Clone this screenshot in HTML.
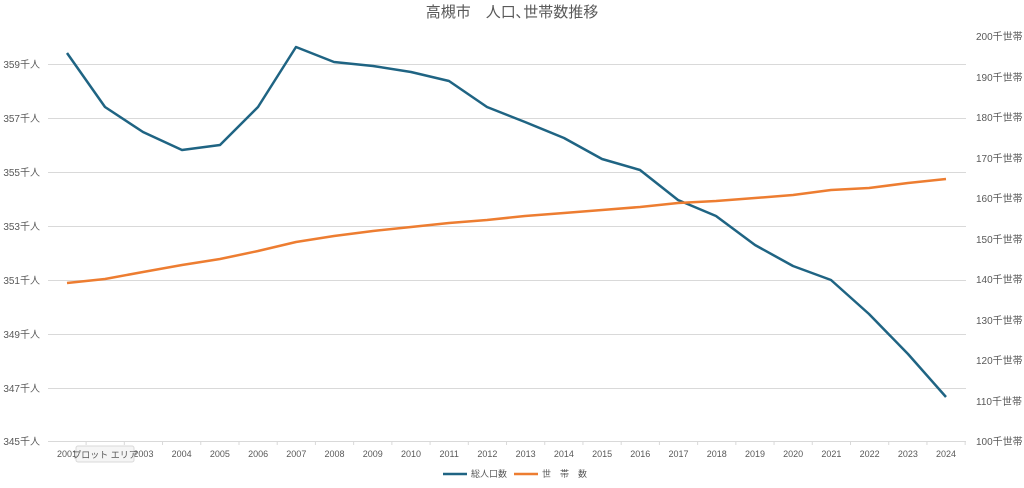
<!DOCTYPE html>
<html><head><meta charset="utf-8"><style>
body{margin:0;background:#fff;}
text{font-family:"Liberation Sans","Noto Sans CJK JP",sans-serif;fill:#595959;}
</style></head><body>
<svg width="1024" height="483" xmlns="http://www.w3.org/2000/svg">
<text x="512" y="17" font-size="15" text-anchor="middle" fill="#595959">高槻市　人口､世帯数推移</text>
<g stroke="#d9d9d9" stroke-width="1">
<line x1="48" x2="966" y1="64.5" y2="64.5"/>
<line x1="48" x2="966" y1="118.5" y2="118.5"/>
<line x1="48" x2="966" y1="172.5" y2="172.5"/>
<line x1="48" x2="966" y1="226.5" y2="226.5"/>
<line x1="48" x2="966" y1="280.5" y2="280.5"/>
<line x1="48" x2="966" y1="334.5" y2="334.5"/>
<line x1="48" x2="966" y1="388.5" y2="388.5"/>
<line x1="48" x2="966" y1="441.5" y2="441.5"/>
</g>
<g font-size="10" text-anchor="end">
<text x="40" y="68">359千人</text><text x="40" y="122">357千人</text>
<text x="40" y="176">355千人</text><text x="40" y="230">353千人</text>
<text x="40" y="284">351千人</text><text x="40" y="338">349千人</text>
<text x="40" y="392">347千人</text><text x="40" y="445">345千人</text>
</g>
<g font-size="10" text-anchor="start">
<text x="976" y="40">200千世帯</text><text x="976" y="81">190千世帯</text>
<text x="976" y="121">180千世帯</text><text x="976" y="162">170千世帯</text>
<text x="976" y="202">160千世帯</text><text x="976" y="243">150千世帯</text>
<text x="976" y="283">140千世帯</text><text x="976" y="324">130千世帯</text>
<text x="976" y="364">120千世帯</text><text x="976" y="405">110千世帯</text>
<text x="976" y="445">100千世帯</text>
</g>
<g font-size="9" text-anchor="middle" id="xl"></g>
<polyline fill="none" stroke="#1f6483" stroke-width="2.5" stroke-linejoin="round" points="67,53 105,107 143,132 182,150 220,145 258,107 296,47 334,62 373,66 411,72 449,81 487,107 525,122 564,138 602,159 640,170 678,200 716,216 755,245 793,266 831,280 869,314 908,354 946,397"/>
<polyline fill="none" stroke="#ed7d31" stroke-width="2.5" stroke-linejoin="round" points="67,283 105,279 143,272 182,265 220,259 258,251 296,242 334,236 373,231 411,227 449,223 487,220 525,216 564,213 602,210 640,207 678,203 716,201 755,198 793,195 831,190 869,188 908,183 946,179"/>
<rect x="76" y="446" width="58" height="16" rx="2" fill="#f5f5f5" stroke="#d9d9d9"/>
<text x="105" y="458" font-size="9" text-anchor="middle">プロット エリア</text>
<line x1="443" x2="467" y1="474" y2="474" stroke="#1f6483" stroke-width="2.5"/>
<text x="471" y="477" font-size="9">総人口数</text>
<line x1="514" x2="538" y1="474" y2="474" stroke="#ed7d31" stroke-width="2.5"/>
<text x="542" y="477" font-size="9">世　帯　数</text>
</svg>
<script>
var g=document.getElementById('xl'),s='';
for(var i=0;i<24;i++){var x=67+i*38.22;if(i!=1)s+='<text x="'+x+'" y="457">'+(2001+i)+'</text>';
s+='<line x1="'+(x+19.1)+'" x2="'+(x+19.1)+'" y1="441" y2="445" stroke="#d9d9d9"/>';}
g.innerHTML=s;
</script>
</body></html>
